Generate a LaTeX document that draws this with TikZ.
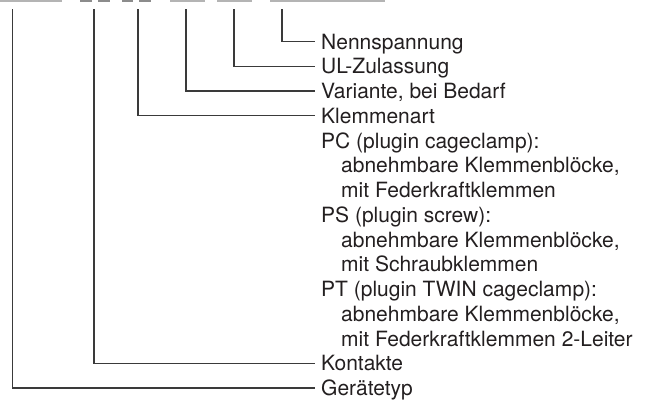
\documentclass[tikz,border=0pt]{standalone}
\usepackage{fontspec}
\setmainfont{TeX Gyre Heros}
\definecolor{ink}{HTML}{231F20}
\definecolor{linegray}{HTML}{3A3A3A}
\definecolor{bardark}{HTML}{8C8C8C}
\definecolor{barlight}{HTML}{B4B4B4}
\tikzset{
  lab/.style={anchor=west, inner sep=0pt, text height=15bp, text depth=0pt,
    font=\fontsize{21bp}{25bp}\selectfont, text=ink},
  conn/.style={draw=linegray, line width=1.2bp},
  topbar/.style={line width=1.6bp},
}
\begin{document}
\begin{tikzpicture}[x=1bp,y=-1bp]
\useasboundingbox (0,0) rectangle (653,399);
% top bars
\draw[topbar,barlight] (0,0.8) -- (62,0.8);
\draw[topbar,bardark] (80,0.8) -- (92,0.8);
\draw[topbar,bardark] (98,0.8) -- (110,0.8);
\draw[topbar,bardark] (122,0.8) -- (133,0.8);
\draw[topbar,bardark] (139,0.8) -- (151,0.8);
\draw[topbar,barlight] (170,0.8) -- (205,0.8);
\draw[topbar,barlight] (217,0.8) -- (252,0.8);
\draw[topbar,barlight] (270,0.8) -- (385,0.8);
% top ends of the leaders
\coordinate (t1) at (12.5,9);
\coordinate (t2) at (94,9);
\coordinate (t3) at (138,9);
\coordinate (t4) at (186,9);
\coordinate (t5) at (234,9);
\coordinate (t6) at (282,9);
% labels
\node[lab] (n1) at (321,41.5) {Nennspannung};
\node[lab] (n2) at (321,66.25) {UL-Zulassung};
\node[lab] (n3) at (321,91) {Variante, bei Bedarf};
\node[lab] (n4) at (321,115.75) {Klemmenart};
\node[lab] (n5) at (321,140.5) {PC (plugin cageclamp):};
\node[lab] (n6) at (341,165.25) {abnehmbare Klemmenblöcke,};
\node[lab] (n7) at (341,190) {mit Federkraftklemmen};
\node[lab] (n8) at (321,214.75) {PS (plugin screw):};
\node[lab] (n9) at (341,239.5) {abnehmbare Klemmenblöcke,};
\node[lab] (n10) at (341,264.25) {mit Schraubklemmen};
\node[lab] (n11) at (321,289) {PT (plugin TWIN cageclamp):};
\node[lab] (n12) at (341,313.75) {abnehmbare Klemmenblöcke,};
\node[lab] (n13) at (341,338.5) {mit Federkraftklemmen 2-Leiter};
\node[lab] (n14) at (321,363.25) {Kontakte};
\node[lab] (n15) at (321,388) {Gerätetyp};
% leaders
\draw[conn] (t6) |- ([xshift=-6bp]n1.west);
\draw[conn] (t5) |- ([xshift=-6bp]n2.west);
\draw[conn] (t4) |- ([xshift=-6bp]n3.west);
\draw[conn] (t3) |- ([xshift=-6bp]n4.west);
\draw[conn] (t2) |- ([xshift=-6bp]n14.west);
\draw[conn] (t1) |- ([xshift=-6bp]n15.west);
\end{tikzpicture}
\end{document}
